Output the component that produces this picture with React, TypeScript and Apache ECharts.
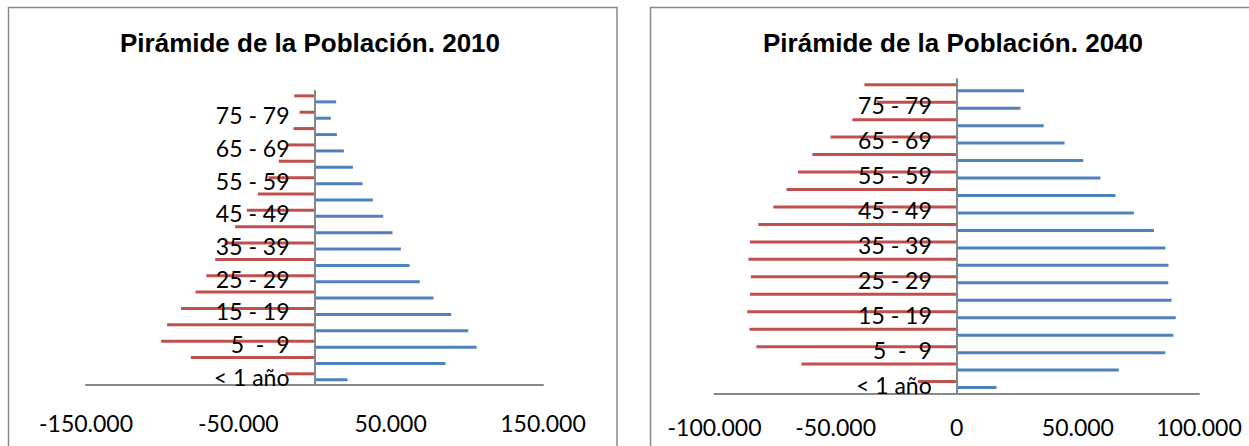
import React, { useEffect, useRef } from "react";
import * as echarts from "echarts";

const CATEGORIES = [
  "< 1 año", "1 - 4", "5  -  9", "10 - 14", "15 - 19", "20 - 24", "25 - 29", "30 - 34", "35 - 39",
  "40 - 44", "45 - 49", "50 - 54", "55 - 59", "60 - 64", "65 - 69", "70 - 74", "75 - 79", "80 y más",
];

const HOMBRES_2010 = [-19000, -81200, -100700, -96800, -87600, -78100, -71000, -65200, -59000, -52100, -44400, -37200, -30200, -23400, -17500, -13800, -9800, -13300];
const MUJERES_2010 = [21700, 86000, 106500, 100900, 89700, 78100, 69100, 62400, 56700, 51200, 45100, 38300, 31500, 25200, 19300, 14700, 10700, 14200];
const HOMBRES_2040 = [-16000, -64100, -82700, -85600, -86500, -85400, -85000, -86000, -85400, -81900, -75700, -70300, -65500, -59600, -52100, -43100, -33000, -38100];
const MUJERES_2040 = [16400, 66900, 86100, 89400, 90400, 88700, 87300, 87400, 86100, 81400, 73100, 65500, 59300, 52200, 44500, 35900, 26300, 27800];

const TITLES = ["Pirámide de la Población. 2010", "Pirámide de la Población. 2040"];
const AXIS_2010 = { min: -150000, max: 150000, interval: 50000 };
const AXIS_2040 = { min: -100000, max: 100000, interval: 50000 };

const RED = "#C0504D";
const BLUE = "#4F81BD";
const GRAY = "#888888";
const LABEL_FONT = "Lato";

const GRID_L = { left: 86, top: 90.7, width: 457, height: 294.3 };
const GRID_R = { left: 714.5, top: 79, width: 484.5, height: 314.3 };

function fmt(v: number): string {
  const s = Math.abs(v).toString().replace(/\B(?=(\d{3})+(?!\d))/g, ".");
  return (v < 0 ? "-" : "") + s;
}

export default function App() {
  const ref = useRef<HTMLDivElement>(null);
  useEffect(() => {
    if (!ref.current) return;
    const chart = echarts.init(ref.current, undefined, { renderer: "svg" });

    const yAxisBase = (gridIndex: number, offset: number) => ({
      type: "category" as const,
      gridIndex,
      data: CATEGORIES,
      z: 5,
      offset,
      axisTick: { show: false },
      axisLine: { show: true, onZero: false, lineStyle: { color: GRAY, width: 2 } },
      axisLabel: {
        interval: 1,
        margin: 25,
        color: "#000",
        fontFamily: LABEL_FONT,
        fontSize: 23,
      },
      splitLine: { show: false },
    });

    const barBase = {
      type: "bar" as const,
      barWidth: 3,
      barGap: "100%",
      silent: true,
    };

    const zeroOffset = (g: { left: number; width: number }, a: { min: number; max: number }) =>
      -(g.width * (0 - a.min)) / (a.max - a.min);

    chart.setOption({
      animation: false,
      grid: [
        { ...GRID_L, containLabel: false, outerBoundsMode: "none" },
        { ...GRID_R, containLabel: false, outerBoundsMode: "none" },
      ],
      xAxis: [
        {
          type: "value",
          gridIndex: 0,
          ...AXIS_2010,
          axisLine: { show: true, onZero: false, lineStyle: { color: GRAY, width: 2 } },
          axisTick: { show: false },
          splitLine: { show: false },
          axisLabel: {
            margin: 26,
            color: "#000",
            fontFamily: LABEL_FONT,
            fontSize: 23,
            showMinLabel: true,
            showMaxLabel: true,
            formatter: (v: number) => (Math.abs(v) % 100000 === 50000 ? fmt(v) : ""),
          },
        },
        {
          type: "value",
          gridIndex: 1,
          ...AXIS_2040,
          axisLine: { show: true, onZero: false, lineStyle: { color: GRAY, width: 2 } },
          axisTick: { show: false },
          splitLine: { show: false },
          axisLabel: {
            margin: 22,
            color: "#000",
            fontFamily: LABEL_FONT,
            fontSize: 23,
            showMinLabel: true,
            showMaxLabel: true,
            formatter: (v: number) => fmt(v),
          },
        },
      ],
      yAxis: [yAxisBase(0, zeroOffset(GRID_L, AXIS_2010)), yAxisBase(1, zeroOffset(GRID_R, AXIS_2040))],
      series: [
        { ...barBase, name: "Hombres 2010", xAxisIndex: 0, yAxisIndex: 0, data: HOMBRES_2010, itemStyle: { color: RED } },
        { ...barBase, name: "Mujeres 2010", xAxisIndex: 0, yAxisIndex: 0, data: MUJERES_2010, itemStyle: { color: BLUE } },
        { ...barBase, name: "Hombres 2040", xAxisIndex: 1, yAxisIndex: 1, data: HOMBRES_2040, itemStyle: { color: RED } },
        { ...barBase, name: "Mujeres 2040", xAxisIndex: 1, yAxisIndex: 1, data: MUJERES_2040, itemStyle: { color: BLUE } },
      ],
      graphic: [
        {
          type: "rect",
          shape: { x: 8.5, y: 7.5, width: 608.5, height: 460 },
          style: { fill: "none", stroke: GRAY, lineWidth: 1.5 },
          silent: true,
        },
        {
          type: "rect",
          shape: { x: 650.5, y: 7.5, width: 640, height: 460 },
          style: { fill: "none", stroke: GRAY, lineWidth: 1.5 },
          silent: true,
        },
        {
          type: "text",
          x: 310,
          y: 43,
          style: {
            text: TITLES[0],
            fill: "#000",
            font: 'bold 26px "Liberation Sans", Arial, sans-serif',
            align: "center",
            verticalAlign: "middle",
            textAlign: "center",
            textVerticalAlign: "middle",
          },
        },
        {
          type: "text",
          x: 953,
          y: 43,
          style: {
            text: TITLES[1],
            fill: "#000",
            font: 'bold 26px "Liberation Sans", Arial, sans-serif',
            align: "center",
            verticalAlign: "middle",
            textAlign: "center",
            textVerticalAlign: "middle",
          },
        },
      ],
    });
    return () => chart.dispose();
  }, []);

  return (
    <div
      ref={ref}
      style={{ position: "absolute", left: 0, top: 0, width: 1249, height: 446, background: "#fff" }}
    />
  );
}
